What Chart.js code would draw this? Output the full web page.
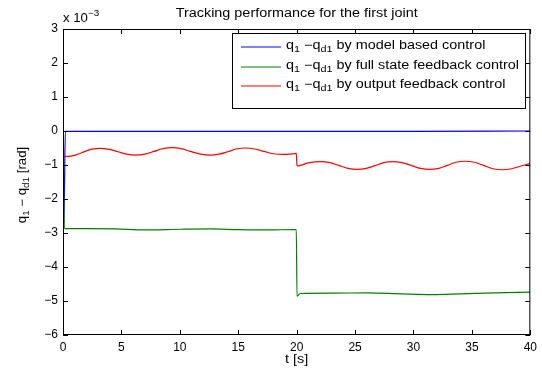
<!DOCTYPE html>
<html>
<head>
<meta charset="utf-8">
<script src="https://cdn.jsdelivr.net/npm/chart.js@4.4.1/dist/chart.umd.min.js"></script>
<style>
  html, body { margin: 0; padding: 0; background: #fff; }
  #wrap { width: 542px; height: 371px; }
</style>
</head>
<body>
<div id="wrap"><canvas id="trackChart" width="542" height="371"></canvas></div>
<script>
// values (units of 1e-3 rad)
const xTicks = [0, 5, 10, 15, 20, 25, 30, 35, 40];
const yTicks = [-6, -5, -4, -3, -2, -1, 0, 1, 2, 3];

const modelT = [0, 0.08, 0.2, 10, 20, 30, 40];
const modelY = [0, -2.7, -0.01, -0.01, -0.01, -0.01, 0];

const fullT = [0, 0.12, 2, 4.5, 7, 10, 12.5, 15, 17.5, 19.97, 20.03, 20.3, 23, 26, 29, 31.5, 34, 37, 40];
const fullY = [0, -2.87, -2.87, -2.88, -2.91, -2.89, -2.88, -2.9, -2.91, -2.9, -4.86, -4.78, -4.77, -4.76, -4.79, -4.81, -4.79, -4.76, -4.74];

const outT = [0, 0.08, 0.8, 1.6, 2.4, 3.2, 3.95, 4.7, 5.45, 6.2, 7.0, 7.8, 8.55, 9.3, 10.1, 10.9, 11.8, 12.6, 13.35, 14.1, 14.85, 15.6, 16.4, 17.2, 18.0, 18.8, 19.4, 19.97,
              20.03, 21.0, 22.1, 22.85, 23.6, 24.4, 25.2, 25.95, 26.7, 27.45, 28.2, 29.0, 29.8, 30.6, 31.4, 32.15, 32.9, 33.65, 34.4, 35.2, 36.0, 36.8, 37.6, 38.4, 39.2, 40];
const outY = [0, -0.75, -0.73, -0.64, -0.54, -0.51, -0.54, -0.61, -0.68, -0.71, -0.68, -0.6, -0.52, -0.49, -0.52, -0.6, -0.68, -0.71, -0.68, -0.61, -0.53, -0.5, -0.53, -0.6, -0.67, -0.69, -0.68, -0.66,
              -1.03, -0.94, -0.9, -0.93, -1.01, -1.1, -1.13, -1.1, -1.02, -0.93, -0.9, -0.93, -1.01, -1.1, -1.13, -1.1, -1.01, -0.92, -0.89, -0.92, -1.01, -1.11, -1.14, -1.11, -1.03, -0.95];

const seriesColors = ['#0000ff', '#008000', '#ff0000'];
const legendTexts = ['by model based control', 'by full state feedback control', 'by output feedback control'];

const FONT = '"Liberation Sans", Arial, Helvetica, sans-serif';
const STRETCH = 1.2; // the reference text is drawn wide

function toPoints(ts, ys) {
    return ts.map((t, i) => ({ x: t, y: ys[i] }));
}

function partsWidth(ctx, parts, size) {
    let w = 0;
    parts.forEach(p => {
        ctx.font = (p.sub || p.sup ? size * 0.75 : size) + 'px ' + FONT;
        w += ctx.measureText(p.t).width;
    });
    return w;
}

// text made of normal / subscript / superscript pieces, stretched sideways
function drawParts(ctx, parts, x, y, size, stretch) {
    ctx.save();
    ctx.translate(x, y);
    ctx.scale(stretch, 1);
    let cx = 0;
    parts.forEach(p => {
        const s = p.sub || p.sup ? size * 0.75 : size;
        ctx.font = s + 'px ' + FONT;
        const dy = p.sub ? size * 0.3 : (p.sup ? -size * 0.45 : 0);
        ctx.fillText(p.t, cx, dy);
        cx += ctx.measureText(p.t).width;
    });
    ctx.restore();
}

const qParts = [
    { t: 'q' }, { t: '1', sub: true }, { t: ' \u2212q' }, { t: 'd1', sub: true }
];

const framePlugin = {
    id: 'matlabFrame',
    afterDatasetsDraw(chart) {
        const ctx = chart.ctx;
        const a = chart.chartArea;
        const xs = chart.scales.x, ys = chart.scales.y;
        ctx.save();
        ctx.strokeStyle = '#000';
        ctx.lineWidth = 1;
        ctx.strokeRect(a.left + 0.5, a.top + 0.5, a.right - a.left - 1, a.bottom - a.top - 1);

        // inward ticks on all four sides
        ctx.beginPath();
        xTicks.forEach(v => {
            const px = Math.round(xs.getPixelForValue(v)) + 0.5;
            ctx.moveTo(px, a.bottom); ctx.lineTo(px, a.bottom - 5);
            ctx.moveTo(px, a.top); ctx.lineTo(px, a.top + 5);
        });
        yTicks.forEach(v => {
            const py = Math.round(ys.getPixelForValue(v)) + 0.5;
            ctx.moveTo(a.left, py); ctx.lineTo(a.left + 5, py);
            ctx.moveTo(a.right, py); ctx.lineTo(a.right - 5, py);
        });
        ctx.stroke();

        ctx.fillStyle = '#000';
        ctx.textBaseline = 'middle';
        ctx.textAlign = 'left';

        // title and x label
        const title = [{ t: 'Tracking performance for the first joint' }];
        const mid = (a.left + a.right) / 2;
        drawParts(ctx, title, mid - partsWidth(ctx, title, 12) * STRETCH / 2, 14, 12, STRETCH);
        const xl = [{ t: 't [s]' }];
        drawParts(ctx, xl, mid - partsWidth(ctx, xl, 12) * STRETCH / 2, 360, 12, STRETCH);

        // exponent
        drawParts(ctx, [{ t: 'x 10' }, { t: '\u22123', sup: true }], a.left, 19, 12, 1.1);

        // y label, rotated
        ctx.save();
        ctx.translate(23, 185);
        ctx.rotate(-Math.PI / 2);
        const yParts = [{ t: 'q' }, { t: '1', sub: true }, { t: ' \u2212 q' }, { t: 'd1', sub: true }, { t: ' [rad]' }];
        const w = partsWidth(ctx, yParts, 12) * 1.1;
        drawParts(ctx, yParts, -w / 2, 0, 12, 1.1);
        ctx.restore();

        // legend
        const lx = 232, ly = 33, lw = 293, lh = 75;
        ctx.fillStyle = '#fff';
        ctx.fillRect(lx, ly, lw, lh);
        ctx.strokeStyle = '#000';
        ctx.strokeRect(lx + 0.5, ly + 0.5, lw, lh);
        const rows = [47, 66.5, 86];
        rows.forEach((ry, i) => {
            ctx.beginPath();
            ctx.strokeStyle = seriesColors[i];
            ctx.lineWidth = 1.2;
            ctx.moveTo(241, Math.round(ry));
            ctx.lineTo(281, Math.round(ry));
            ctx.stroke();
            ctx.fillStyle = '#000';
            drawParts(ctx, qParts.concat([{ t: ' ' + legendTexts[i] }]), 286, ry - 1, 12, STRETCH);
        });
        ctx.restore();
    }
};

const ctx = document.getElementById('trackChart').getContext('2d');

new Chart(ctx, {
    type: 'line',
    data: {
        datasets: [
            { data: toPoints(modelT, modelY), borderColor: seriesColors[0], order: 3 },
            { data: toPoints(fullT, fullY), borderColor: seriesColors[1], order: 2 },
            { data: toPoints(outT, outY), borderColor: seriesColors[2], order: 1 }
        ].map(d => Object.assign(d, {
            borderWidth: 1.2,
            pointRadius: 0,
            fill: false,
            cubicInterpolationMode: 'monotone'
        }))
    },
    options: {
        responsive: false,
        animation: false,
        events: [],
        layout: { padding: { top: 29, right: 11, left: 0, bottom: 0 } },
        plugins: {
            legend: { display: false },
            title: { display: false },
            tooltip: { enabled: false }
        },
        scales: {
            x: {
                type: 'linear',
                min: 0, max: 40,
                afterBuildTicks: s => { s.ticks = xTicks.map(v => ({ value: v })); },
                afterFit: s => { s.height = 36; },
                grid: { display: false, drawTicks: false, tickLength: 0 },
                border: { display: false },
                ticks: { color: '#000', padding: 5, font: { family: FONT, size: 12 } }
            },
            y: {
                type: 'linear',
                min: -6, max: 3,
                afterBuildTicks: s => { s.ticks = yTicks.map(v => ({ value: v })); },
                afterFit: s => { s.width = 63; },
                grid: { display: false, drawTicks: false, tickLength: 0 },
                border: { display: false },
                ticks: {
                    color: '#000', padding: 5, font: { family: FONT, size: 12 },
                    callback: v => v < 0 ? '\u2212' + Math.abs(v) : String(v)
                }
            }
        }
    },
    plugins: [framePlugin]
});
</script>
</body>
</html>
